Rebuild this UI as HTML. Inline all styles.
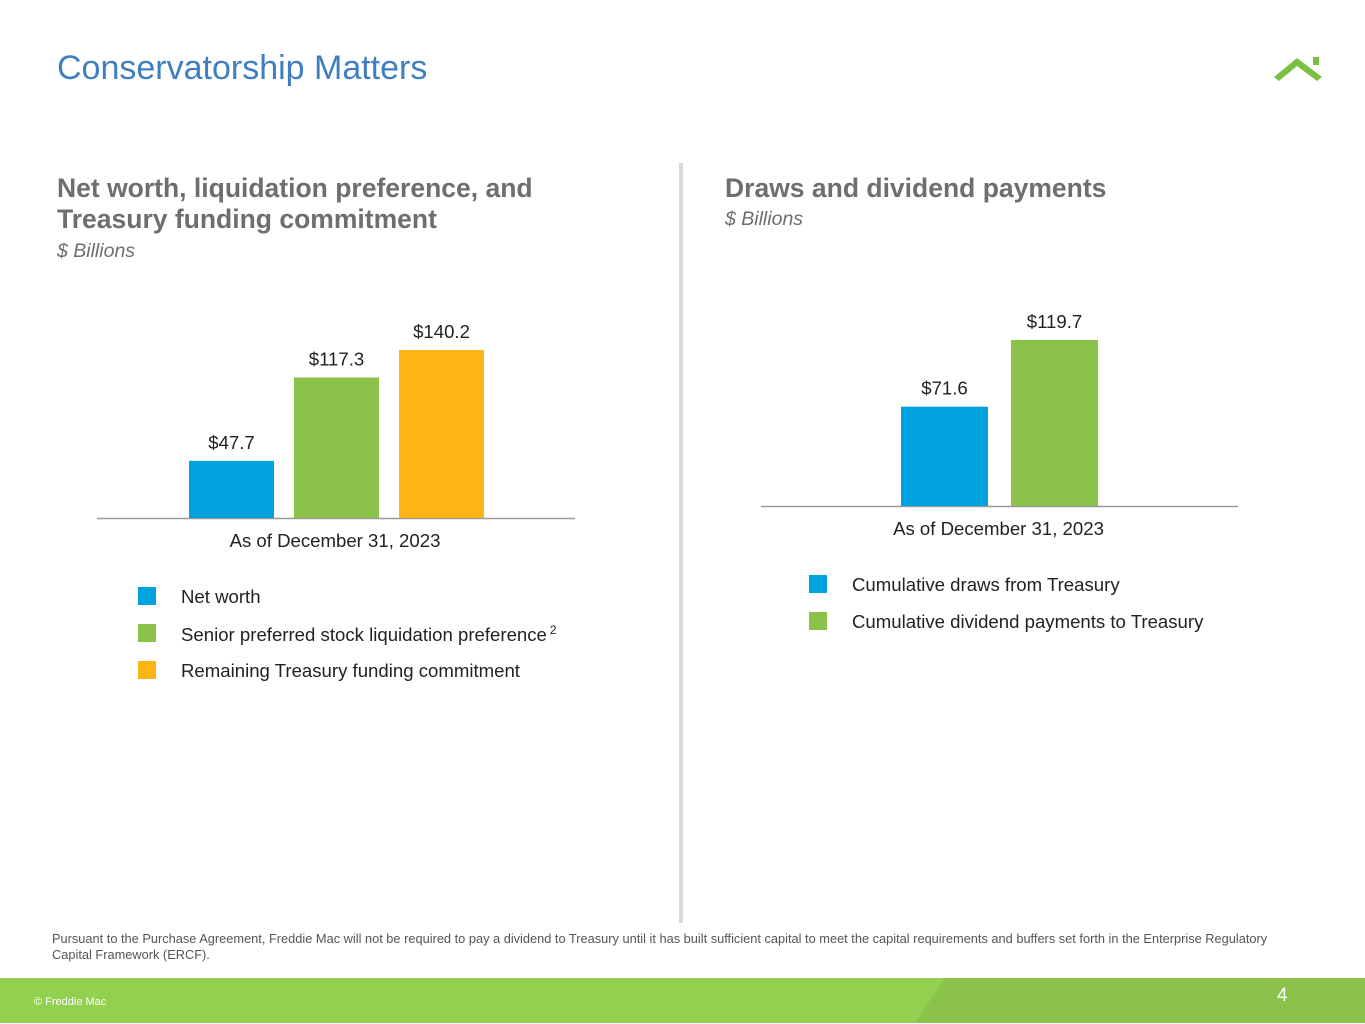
<!DOCTYPE html>
<html><head><meta charset="utf-8"><style>
body{margin:0;width:1365px;height:1024px;position:relative;background:#fff;font-family:"Liberation Sans",Arial,sans-serif;overflow:hidden}
.a{position:absolute;margin:0}
.h{color:#6d6e71;font-weight:bold;font-size:26.5px;line-height:31px}
.sub{color:#6d6e71;font-style:italic;font-size:19.5px}
.leg{font-size:18.6px;color:#222}
.sw{position:absolute;width:18px;height:18px}
</style></head><body>
<div class="a" style="left:57px;top:49px;font-size:34px;color:#3f7fc1">Conservatorship Matters</div>
<svg class="a" style="left:1270px;top:52px" width="60" height="32"><polygon points="4,25 27,6 52,25 47,29 27,14 9,29" fill="#7ac143"/><rect x="43" y="5" width="6" height="8" fill="#7ac143"/></svg>
<div class="a h" style="left:57px;top:173px">Net worth, liquidation preference, and<br>Treasury funding commitment</div>
<div class="a sub" style="left:57px;top:240px">$ Billions</div>
<div class="a h" style="left:725px;top:173px">Draws and dividend payments</div>
<div class="a sub" style="left:725px;top:208px">$ Billions</div>
<div class="a" style="left:679px;top:163px;width:4px;height:760px;background:#d9d9d9"></div>
<svg id="chart" class="a" style="left:0;top:0" width="1365" height="560"></svg>
<div class="sw" style="left:138px;top:587px;background:#00a3e0"></div>
<div class="a leg" style="left:181px;top:586px">Net worth</div>
<div class="sw" style="left:138px;top:624px;background:#8bc34a"></div>
<div class="a leg" style="left:181px;top:623px">Senior preferred stock liquidation preference<sup style="font-size:12px;margin-left:3px">2</sup></div>
<div class="sw" style="left:138px;top:661px;background:#fdb515"></div>
<div class="a leg" style="left:181px;top:660px">Remaining Treasury funding commitment</div>
<div class="sw" style="left:809px;top:575px;background:#00a3e0"></div>
<div class="a leg" style="left:852px;top:574px">Cumulative draws from Treasury</div>
<div class="sw" style="left:809px;top:612px;background:#8bc34a"></div>
<div class="a leg" style="left:852px;top:611px">Cumulative dividend payments to Treasury</div>
<div class="a" style="left:52px;top:931px;width:1250px;font-size:12.8px;line-height:16px;color:#555">Pursuant to the Purchase Agreement, Freddie Mac will not be required to pay a dividend to Treasury until it has built sufficient capital to meet the capital requirements and buffers set forth in the Enterprise Regulatory Capital Framework (ERCF).</div>
<div class="a" style="left:0;top:978px;width:1365px;height:45px;background:#92d050"></div>
<svg class="a" style="left:0;top:978px" width="1365" height="45"><polygon points="945,0 1365,0 1365,45 915,45" fill="#8bc34a"/></svg>
<div class="a" style="left:34px;top:996px;font-size:11px;color:#fff">© Freddie Mac</div>
<div class="a" style="left:1277px;top:985px;font-size:19px;color:#fff">4</div>
<script>
const leftCats=["Net worth","Senior preferred stock liquidation preference","Remaining Treasury funding commitment"];
const leftValues=[47.7,117.3,140.2];
const leftLabels=["$47.7","$117.3","$140.2"];
const rightCats=["Cumulative draws","Cumulative dividends"];
const rightValues=[71.6,119.7];
const rightLabels=["$71.6","$119.7"];
const NS="http://www.w3.org/2000/svg",svg=document.getElementById('chart');
function mk(t,a){const e=document.createElementNS(NS,t);for(const k in a)e.setAttribute(k,a[k]);svg.appendChild(e);return e;}
function draw(vals,labels,colors,x0,bw,gap,base,scale,ax0,ax1,name){
 const ax=mk('line',{x1:ax0,x2:ax1,y1:base+0.5,y2:base+0.5,stroke:'#999','stroke-width':1.5});
 
 
 vals.forEach((v,i)=>{const h=v*scale,x=x0+i*(bw+gap);
  const r=mk('rect',{x:x,y:base-h,width:bw,height:h,fill:colors[i]});
  
  
  const t=mk('text',{x:x+bw/2,y:base-h-12,'text-anchor':'middle','font-size':18.6,fill:'#222'});t.textContent=labels[i];
  
  });
 const c=mk('text',{x:(ax0+ax1)/2-1,y:base+29,'text-anchor':'middle','font-size':18.6,fill:'#222'});c.textContent='As of December 31, 2023';
 
 
}
draw(leftValues,leftLabels,['#00a3e0','#8bc34a','#fdb515'],189,85,20,518,1.198,97,575,'left');
draw(rightValues,rightLabels,['#00a3e0','#8bc34a'],901,87,23,506,1.387,761,1238,'right');
</script>
</body></html>
